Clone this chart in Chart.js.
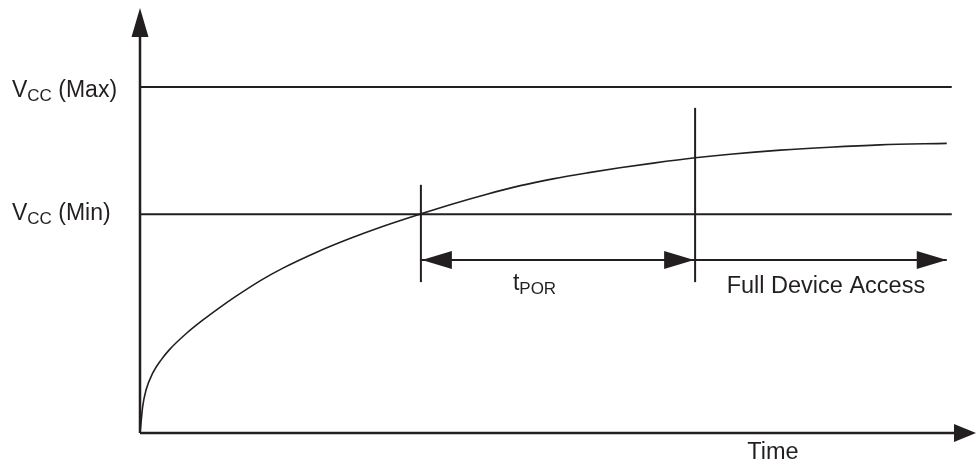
<!DOCTYPE html>
<html>
<head>
<meta charset="utf-8">
<script src="https://cdn.jsdelivr.net/npm/chart.js"></script>
<style>
  html, body { margin: 0; padding: 0; background: #ffffff; }
  #wrap { width: 976px; height: 464px; }
</style>
</head>
<body>
<div id="wrap"><canvas id="por" width="976" height="464"></canvas></div>
<script>
// 曲線資料（時間、電壓，單位為圖上比例 0-100）
const curveTime = [0, 0.12, 0.32, 0.72, 1.52, 2.51, 3.47, 5.5, 7.5, 9.45, 11.5, 14.6, 17.1, 21.2, 25.1, 29.1, 33.5,
  37.4, 41.5, 45.5, 49.4, 53.5, 57.4, 61.4, 66.4, 70.6, 76.6, 82.5, 88.5, 96.5];
const curveVolt = [0, 2.35, 6.2, 10.1, 14.1, 17.15, 19.5, 23.35, 26.55, 29.4, 32.2, 36.1, 38.8, 42.6, 45.75, 48.65, 51.5,
  53.9, 56.2, 58.2, 59.8, 61.2, 62.4, 63.5, 64.75, 65.6, 66.55, 67.25, 67.8, 68.15];

// VCC 門檻
const levelNames = ['Max', 'Min'];
const levelValues = [81.4, 51.5];
const levelEnd = 97.1;

// 垂直標記 (tPOR 開始 / Full Device Access 開始)
const markerTimes = [33.6, 66.4];
const markerTops = [58.4, 76.5];
const markerBottom = 35.5;

// 區間箭頭
const spanLevel = 40.7;
const spanEnd = 96.5;
const spanLabels = ['POR', 'Full Device Access'];
const axisTitle = 'Time';

const INK = '#231f20';
const FONT = '"Liberation Sans", Arial, Helvetica, sans-serif';

function seg(x1, y1, x2, y2, width) {
  return {
    data: [{ x: x1, y: y1 }, { x: x2, y: y2 }],
    showLine: true,
    borderColor: INK,
    borderWidth: width,
    pointRadius: 0,
    tension: 0
  };
}

const datasets = [];
datasets.push({
  data: curveTime.map((t, i) => ({ x: t, y: curveVolt[i] })),
  showLine: true,
  borderColor: INK,
  borderWidth: 1.6,
  pointRadius: 0,
  cubicInterpolationMode: 'monotone'
});
levelValues.forEach(v => datasets.push(seg(0, v, levelEnd, v, 2)));
markerTimes.forEach((t, i) => datasets.push(seg(t, markerBottom, t, markerTops[i], 2)));
datasets.push(seg(markerTimes[0], spanLevel, markerTimes[1], spanLevel, 2));
datasets.push(seg(markerTimes[1], spanLevel, spanEnd, spanLevel, 2));

// 箭頭
function arrowHead(ctx, tipX, tipY, dir, len, half) {
  ctx.beginPath();
  if (dir === 'right' || dir === 'left') {
    const s = dir === 'right' ? -1 : 1;
    ctx.moveTo(tipX, tipY);
    ctx.lineTo(tipX + s * len, tipY - half);
    ctx.lineTo(tipX + s * len, tipY + half);
  } else {
    ctx.moveTo(tipX, tipY);
    ctx.lineTo(tipX - half, tipY + len);
    ctx.lineTo(tipX + half, tipY + len);
  }
  ctx.closePath();
  ctx.fill();
}

function subText(ctx, x, y, main, sub, rest) {
  ctx.font = '23px ' + FONT;
  ctx.fillText(main, x, y);
  let cx = x + ctx.measureText(main).width;
  ctx.font = '17px ' + FONT;
  ctx.fillText(sub, cx, y + 4);
  cx += ctx.measureText(sub).width;
  if (rest) {
    ctx.font = '23px ' + FONT;
    ctx.fillText(rest, cx, y);
  }
}

const decorations = {
  id: 'decorations',
  afterDatasetsDraw(chart) {
    const ctx = chart.ctx;
    const xs = chart.scales.x, ys = chart.scales.y;
    const x0 = xs.getPixelForValue(0), y0 = ys.getPixelForValue(0);
    const xEnd = xs.getPixelForValue(100), yEnd = ys.getPixelForValue(100);
    ctx.save();
    ctx.strokeStyle = INK;
    ctx.fillStyle = INK;
    ctx.lineWidth = 2.5;
    // 座標軸
    ctx.beginPath();
    ctx.moveTo(x0, y0);
    ctx.lineTo(xEnd - 10, y0);
    ctx.moveTo(x0, y0);
    ctx.lineTo(x0, yEnd + 10);
    ctx.stroke();
    arrowHead(ctx, xEnd, y0, 'right', 22, 9);
    arrowHead(ctx, x0, yEnd, 'up', 29, 8.5);

    // 區間箭頭
    const sy = ys.getPixelForValue(spanLevel);
    const m1 = xs.getPixelForValue(markerTimes[0]);
    const m2 = xs.getPixelForValue(markerTimes[1]);
    const se = xs.getPixelForValue(spanEnd);
    arrowHead(ctx, m1 + 1, sy, 'left', 30, 9);
    arrowHead(ctx, m2 - 1, sy, 'right', 30, 9);
    arrowHead(ctx, se, sy, 'right', 30, 9);

    // 文字
    ctx.textBaseline = 'alphabetic';
    ctx.textAlign = 'left';
    levelValues.forEach((v, i) => {
      const py = ys.getPixelForValue(v);
      subText(ctx, 12, py + 10 - (i === 1 ? 4 : 0), 'V', 'CC', ' (' + levelNames[i] + ')');
    });
    subText(ctx, m1 + 92, sy + 30, 't', spanLabels[0], '');
    ctx.font = '23.5px ' + FONT;
    ctx.textAlign = 'center';
    ctx.fillText(spanLabels[1], (m2 + se) / 2 + 5, sy + 33);
    ctx.fillText(axisTitle, xs.getPixelForValue(75.7), y0 + 26);
    ctx.restore();
  }
};

new Chart(document.getElementById('por'), {
  type: 'scatter',
  data: { datasets: datasets },
  options: {
    responsive: false,
    animation: false,
    layout: { padding: { left: 140, right: 0, top: 8, bottom: 31 } },
    plugins: { legend: { display: false }, tooltip: { enabled: false } },
    scales: {
      x: { type: 'linear', min: 0, max: 100, display: false },
      y: { type: 'linear', min: 0, max: 100, display: false }
    }
  },
  plugins: [decorations]
});
</script>
</body>
</html>
